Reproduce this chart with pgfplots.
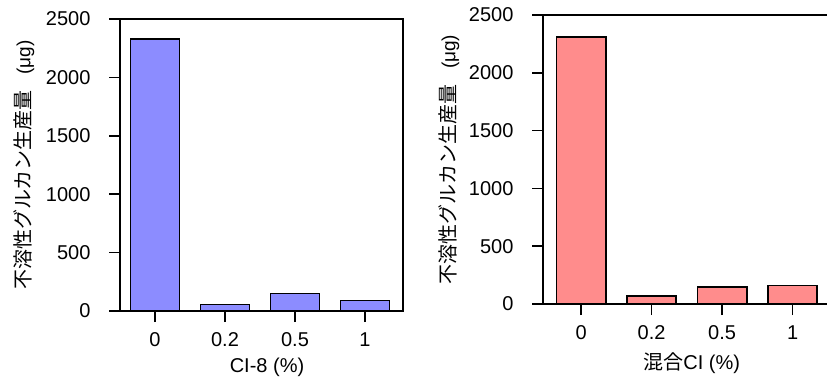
\documentclass[border=0pt]{standalone}
\usepackage{pgfplots}
\pgfplotsset{compat=1.18}
\usepackage{fontspec}
\setmainfont{Liberation Sans}
\newfontfamily\cjk{Noto Sans CJK JP}

\definecolor{barblue}{RGB}{140,140,255}
\definecolor{barred}{RGB}{255,140,140}

\newcommand{\unitmu}{\fontsize{19bp}{22bp}\selectfont(μg)}

\pgfplotsset{
  panel/.style={
    scale only axis,
    ymin=0, ymax=2500,
    ytick={0,500,1000,1500,2000,2500},
    xtick={0,1,2,3},
    xticklabels={0,0.2,0.5,1},
    tick align=outside,
    major tick length=11bp,
    xtick pos=left, ytick pos=left,
    tick style={line width=1.7bp, black},
    axis line style={line width=1.7bp},
    ybar, bar width=0.7,
    tick label style={font=\fontsize{20bp}{23bp}\selectfont},
    label style={font=\fontsize{20bp}{23bp}\selectfont},
    /pgf/number format/assume math mode=true,
    /pgf/number format/set thousands separator={},
    scaled y ticks=false,
    yticklabel shift=15bp,
    xticklabel shift=7bp,
    ylabel={{\cjk 不溶性グルカン生産量}\hspace{0.8em}\unitmu},
  },
}

\begin{document}
\begin{tikzpicture}[x=1bp,y=1bp]
\useasboundingbox (0,0) rectangle (827,378);

% CI-8 panel
\begin{axis}[panel,
  at={(120bp,67bp)}, anchor=south west,
  width=283bp, height=292bp,
  xmin=-0.5, xmax=3.543,
  ylabel style={at={([xshift=-96bp]axis description cs:0,0.5)}, anchor=center},
  xlabel={CI-8 (\%)},
  xlabel style={at={([yshift=-56bp]axis cs:1.6,0)}, anchor=center},
]
\addplot[fill=barblue, draw=black, line width=1.6bp] coordinates {
  (0,2330) (1,55) (2,150) (3,90)
};
\end{axis}

% mixed CI panel
\begin{axis}[panel,
  at={(543bp,74bp)}, anchor=south west,
  width=284bp, height=289bp,
  xmin=-0.54, xmax=3.488,
  axis lines*=left,
  clip=false,
  extra description/.code={\draw[line width=1.7bp] (0,1) -- (1,1);},
  ylabel style={at={([xshift=-94bp]axis description cs:0,0.5)}, anchor=center},
  xlabel={{\cjk 混合}CI (\%)},
  xlabel style={at={([yshift=-59bp]axis cs:1.57,0)}, anchor=center},
]
\addplot[fill=barred, draw=black, line width=1.6bp] coordinates {
  (0,2310) (1,70) (2,145) (3,160)
};
\end{axis}
\end{tikzpicture}
\end{document}
